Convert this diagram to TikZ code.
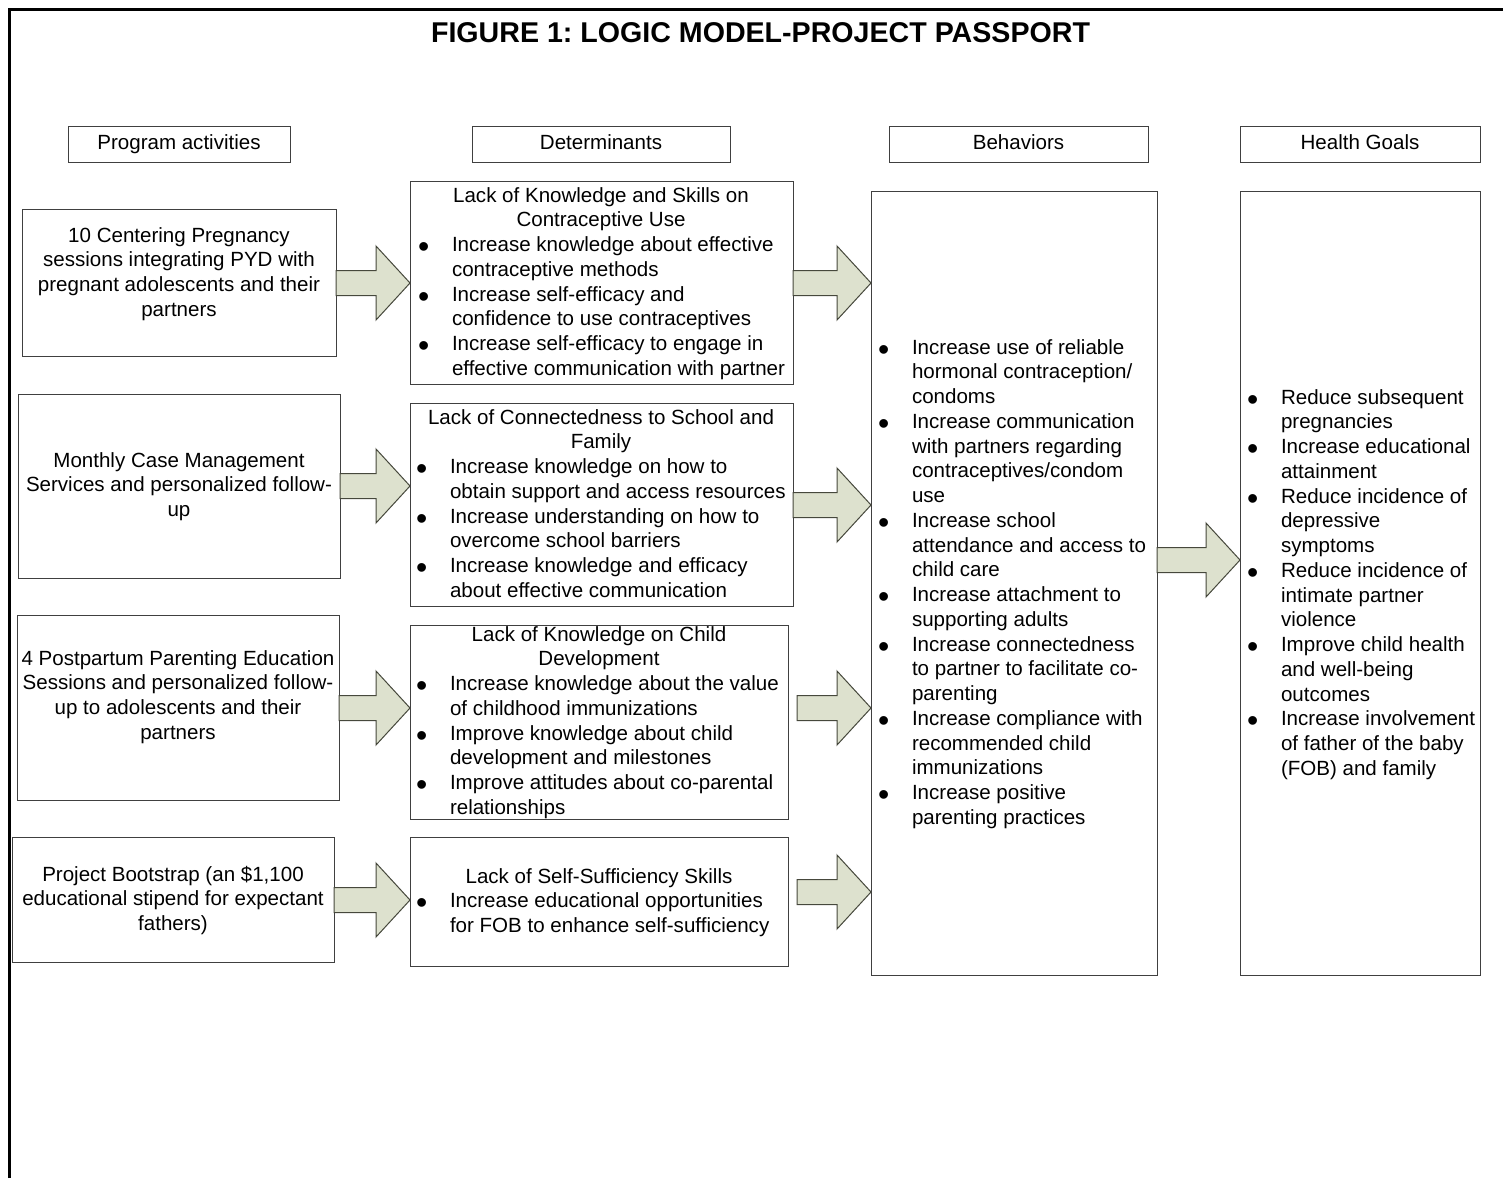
\documentclass[tikz,border=0pt]{standalone}
\usepackage{fontspec}
\setmainfont{Liberation Sans}
\usetikzlibrary{calc,fit}
\frenchspacing
\definecolor{arrfill}{RGB}{221,225,206}
\definecolor{arrline}{RGB}{70,72,60}
\newcommand\bul{\llap{\makebox[17pt][l]{\raisebox{-3.1pt}{\fontsize{16}{12}\selectfont\textbullet}}}}
\newcommand\tl[1]{\begin{tabular}[t]{@{}l@{}}#1\end{tabular}}
\newcommand\tc[1]{\begin{tabular}[t]{@{}c@{}}#1\end{tabular}}
\newcommand\blockarr[3]{%
  \draw[barrow] let \p1=(#1), \p2=(#2), \p3=(0,#3) in
    (\x1,\y3+6.25pt) -- (\x2-17pt,\y3+6.25pt) -- (\x2-17pt,\y3+18.5pt) -- (\x2,\y3)
    -- (\x2-17pt,\y3-18.5pt) -- (\x2-17pt,\y3-6.25pt) -- (\x1,\y3-6.25pt) -- cycle;}
\tikzset{
  boxnode/.style={draw=black!75, line width=0.5pt, inner sep=0pt, outer sep=0pt},
  txt/.style={inner sep=0pt, outer sep=0pt},
  barrow/.style={fill=arrfill, draw=arrline, line width=0.5pt, line join=miter},
}
\begin{document}
\begin{tikzpicture}[x=0.5pt, y=-0.5pt, font=\fontsize{10.27}{12.375}\selectfont]
\useasboundingbox (0,0) rectangle (1503,1178);
% outer frame (top and left visible)
\draw[line width=1.5pt] (9.5,1178) -- (9.5,9.5) -- (1503,9.5);
% title
\node[txt, anchor=base, font=\fontsize{14.3}{17}\selectfont\bfseries] (title) at (760.5,42.5) {FIGURE 1: LOGIC MODEL-PROJECT PASSPORT};

% headers
\node[boxnode, fit={(68,126) (290,162)}] (h1) {};
\node[boxnode, fit={(472,126) (730,162)}] (h2) {};
\node[boxnode, fit={(889,126) (1148,162)}] (h3) {};
\node[boxnode, fit={(1240,126) (1480,162)}] (h4) {};
\node[txt, anchor=base] at (179,149.5) {Program activities};
\node[txt, anchor=base] at (601,149.5) {Determinants};
\node[txt, anchor=base] at (1018.5,149.5) {Behaviors};
\node[txt, anchor=base] at (1360,149.5) {Health Goals};

% program activities
\node[boxnode, fit={(22,209) (336,356)}] (a1) {};
\node[boxnode, fit={(18,394) (340,578)}] (a2) {};
\node[boxnode, fit={(17,615) (339,800)}] (a3) {};
\node[boxnode, fit={(12,837) (334,962)}] (a4) {};
\node[txt, anchor=base] at (179,242) {\tc{10 Centering Pregnancy\\sessions integrating PYD with\\pregnant adolescents and their\\partners}};
\node[txt, anchor=base] at (179,467) {\tc{Monthly Case Management\\Services and personalized follow-\\up}};
\node[txt, anchor=base] at (178,665) {\tc{4 Postpartum Parenting Education\\Sessions and personalized follow-\\up to adolescents and their\\partners}};
\node[txt, anchor=base] at (173,881) {\tc{Project Bootstrap (an \$1,100\\educational stipend for expectant\\fathers)}};

% determinants
\node[boxnode, fit={(410,181) (793,384)}] (d1) {};
\node[boxnode, fit={(410,403) (793,606)}] (d2) {};
\node[boxnode, fit={(410,625) (788,819)}] (d3) {};
\node[boxnode, fit={(410,837) (788,966)}] (d4) {};
\node[txt, anchor=base] at (601,202) {\tc{Lack of Knowledge and Skills on\\Contraceptive Use}};
\node[txt, anchor=base west] at (452,251.5) {\tl{\bul Increase knowledge about effective\\contraceptive methods\\\bul Increase self-efficacy and\\confidence to use contraceptives\\\bul Increase self-efficacy to engage in\\effective communication with partner}};
\node[txt, anchor=base] at (601,424) {\tc{Lack of Connectedness to School and\\Family}};
\node[txt, anchor=base west] at (450,473.5) {\tl{\bul Increase knowledge on how to\\obtain support and access resources\\\bul Increase understanding on how to\\overcome school barriers\\\bul Increase knowledge and efficacy\\about effective communication}};
\node[txt, anchor=base] at (599,641) {\tc{Lack of Knowledge on Child\\Development}};
\node[txt, anchor=base west] at (450,690.5) {\tl{\bul Increase knowledge about the value\\of childhood immunizations\\\bul Improve knowledge about child\\development and milestones\\\bul Improve attitudes about co-parental\\relationships}};
\node[txt, anchor=base] at (599,883) {\tc{Lack of Self-Sufficiency Skills}};
\node[txt, anchor=base west] at (450,907.75) {\tl{\bul Increase educational opportunities\\for FOB to enhance self-sufficiency}};

% behaviors
\node[boxnode, fit={(871,191) (1157,975)}] (beh) {};
\node[txt, anchor=base west] at (912,354) {\tl{\bul Increase use of reliable\\hormonal contraception/\\condoms\\\bul Increase communication\\with partners regarding\\contraceptives/condom\\use\\\bul Increase school\\attendance and access to\\child care\\\bul Increase attachment to\\supporting adults\\\bul Increase connectedness\\to partner to facilitate co-\\parenting\\\bul Increase compliance with\\recommended child\\immunizations\\\bul Increase positive\\parenting practices}};

% health goals
\node[boxnode, fit={(1240,191) (1480,975)}] (hg) {};
\node[txt, anchor=base west] at (1281,404) {\tl{\bul Reduce subsequent\\pregnancies\\\bul Increase educational\\attainment\\\bul Reduce incidence of\\depressive\\symptoms\\\bul Reduce incidence of\\intimate partner\\violence\\\bul Improve child health\\and well-being\\outcomes\\\bul Increase involvement\\of father of the baby\\(FOB) and family}};

% block arrows
\blockarr{a1.east}{d1.west}{283}
\blockarr{a2.east}{d2.west}{486}
\blockarr{a3.east}{d3.west}{708}
\blockarr{a4.east}{d4.west}{900}
\blockarr{d1.east}{beh.west}{283}
\blockarr{d2.east}{beh.west}{505}
\blockarr{[xshift=4.5pt]d3.east}{beh.west}{708}
\blockarr{[xshift=4.5pt]d4.east}{beh.west}{892}
\blockarr{beh.east}{hg.west}{560}
\end{tikzpicture}
\end{document}
